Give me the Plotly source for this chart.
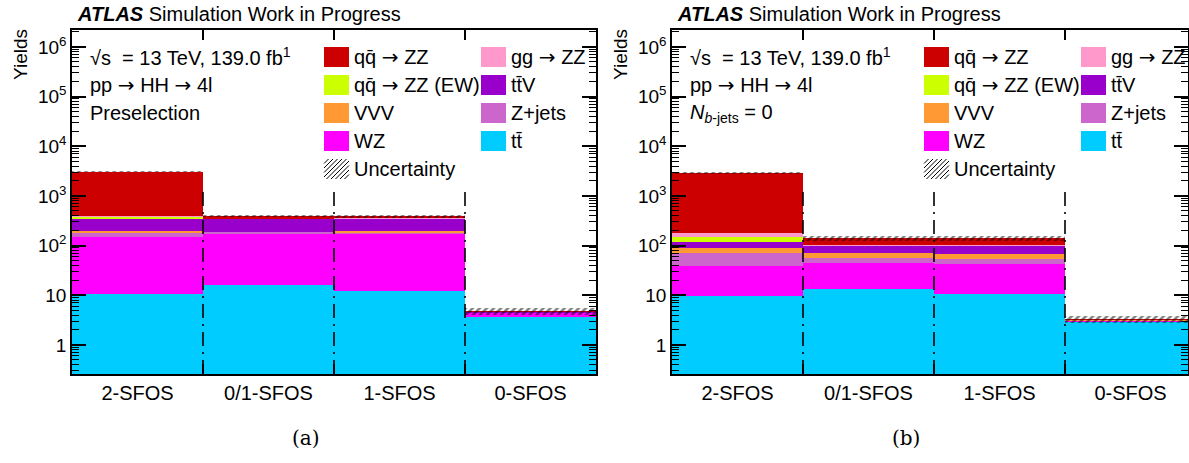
import numpy as np
import plotly.graph_objects as go

W, H = 1189, 463

categories = ["2-SFOS", "0/1-SFOS", "1-SFOS", "0-SFOS"]

ARROW = "<span style='font-family:DejaVu Sans'>\u2192</span>"

# processes in stacking order (bottom to top)
proc_names = ["tt\u0304", "WZ", "Z+jets", "VVV", "tt\u0304V",
              "qq\u0304 " + ARROW + " ZZ (EW)", "gg " + ARROW + " ZZ",
              "qq\u0304 " + ARROW + " ZZ"]
proc_colors = ["#00ccff", "#ff00ff", "#cc66cc", "#ff9933", "#9900cc",
               "#ccff00", "#ff99cc", "#cc0000"]

# (a) preselection yields per category
pre_ttbar = [10.5, 16.0, 12.3, 3.6]
pre_wz = [140.0, 160.0, 164.0, 0.9]
pre_zjets = [31.0, 12.0, 4.0, 0.05]
pre_vvv = [18.0, 4.0, 14.0, 0.05]
pre_ttv = [136.0, 152.0, 156.0, 0.1]
pre_zz_ew = [44.0, 0.5, 0.5, 0.0]
pre_ggzz = [18.0, 1.0, 1.0, 0.01]
pre_qqzz = [2672.0, 45.0, 35.0, 0.1]
pre_unc = [90.0, 20.0, 20.0, 0.8]

# (b) N_b-jets = 0 yields per category
b0_ttbar = [9.6, 13.3, 10.6, 2.9]
b0_wz = [29.0, 31.7, 31.8, 0.25]
b0_zjets = [32.7, 11.6, 10.6, 0.02]
b0_vvv = [16.2, 13.0, 14.0, 0.02]
b0_ttv = [30.0, 32.4, 35.0, 0.05]
b0_zz_ew = [33.0, 0.5, 0.5, 0.0]
b0_ggzz = [25.0, 0.5, 0.5, 0.01]
b0_qqzz = [2705.0, 36.0, 36.0, 0.05]
b0_unc = [85.0, 14.0, 14.0, 0.55]

y_ticks = [1, 10, 100, 1e3, 1e4, 1e5, 1e6]
y_ticktext = ["1", "10", "10<sup>2</sup>", "10<sup>3</sup>", "10<sup>4</sup>",
              "10<sup>5</sup>", "10<sup>6</sup>"]

FONT = "Liberation Sans, Arial, sans-serif"


def px(x):
    return x / W


def py(y):
    return 1 - y / H


fig = go.Figure()

xc = np.arange(len(categories)) + 0.5


def add_stack(stack, unc, xa, ya):
    base = np.zeros(len(categories))
    for vals, col in zip(stack, proc_colors):
        v = np.array(vals, dtype=float)
        fig.add_trace(go.Bar(x=xc, y=v, base=base.copy(), width=1.0,
                             marker=dict(color=col, line=dict(width=0)),
                             xaxis=xa, yaxis=ya, showlegend=False,
                             hoverinfo="skip"))
        base = base + v
    u = np.array(unc, dtype=float)
    fig.add_trace(go.Bar(x=xc, y=2 * u, base=base - u, width=1.0,
                         marker=dict(color="rgba(0,0,0,0)", line=dict(width=0),
                                     pattern=dict(shape="/", fgcolor="black",
                                                  bgcolor="rgba(0,0,0,0)",
                                                  size=5, solidity=0.5)),
                         xaxis=xa, yaxis=ya, showlegend=False, hoverinfo="skip"))


add_stack([pre_ttbar, pre_wz, pre_zjets, pre_vvv, pre_ttv, pre_zz_ew, pre_ggzz, pre_qqzz],
          pre_unc, "x", "y")
add_stack([b0_ttbar, b0_wz, b0_zjets, b0_vvv, b0_ttv, b0_zz_ew, b0_ggzz, b0_qqzz],
          b0_unc, "x2", "y2")

minor_y = [m * 10.0 ** e for e in range(-1, 7) for m in range(2, 10)]
y_top, y_bot = 30, 374
ydom = [py(y_bot), py(y_top)]
ylog_range = [np.log10(0.26), 6.34]


def yaxis_cfg():
    return dict(type="log", range=ylog_range, domain=ydom,
                tickvals=y_ticks, ticktext=y_ticktext,
                ticks="inside", ticklen=14, tickwidth=1.5, tickcolor="black",
                minor=dict(tickvals=minor_y, ticks="inside", ticklen=7,
                           tickwidth=1, tickcolor="black"),
                mirror="allticks", showline=True, linewidth=1.5, linecolor="black",
                showgrid=False, zeroline=False,
                tickfont=dict(family=FONT, size=19, color="black"))


def xaxis_cfg(dom, rng, anchor):
    return dict(domain=dom, range=rng, anchor=anchor,
                tickvals=list(xc), ticktext=categories,
                ticks="inside", ticklen=0,
                minor=dict(tickvals=[1, 2, 3], ticks="inside", ticklen=10,
                           tickwidth=1.5, tickcolor="black"),
                mirror="allticks", showline=True, linewidth=1.5, linecolor="black",
                showgrid=False, zeroline=False, ticklabelstandoff=0,
                tickfont=dict(family=FONT, size=20, color="black"))


bin_px = 131.0
left_x0, left_x1 = 72, 596
right_x0, right_x1 = 672, 1188

fig.update_layout(
    width=W, height=H, autosize=False,
    margin=dict(l=0, r=0, t=0, b=0),
    paper_bgcolor="white", plot_bgcolor="white",
    barmode="overlay", bargap=0,
    xaxis=xaxis_cfg([px(left_x0), px(left_x1)], [0, 4], "y"),
    yaxis=dict(**yaxis_cfg(), anchor="x"),
    xaxis2=xaxis_cfg([px(right_x0), px(right_x1)],
                     [0, (right_x1 - right_x0) / bin_px], "y2"),
    yaxis2=dict(**yaxis_cfg(), anchor="x2"),
    font=dict(family=FONT, color="black"),
)

annotations = []
shapes = []

# bin dividers
for xa in ("x", "x2"):
    for e in (1, 2, 3):
        shapes.append(dict(type="line", xref=xa, yref="paper", x0=e, x1=e,
                           y0=py(y_bot), y1=py(186),
                           line=dict(color="black", width=1.6,
                                     dash="14px,6px,2px,6px")))


def text(x, y, s, size=20, anchor="left", family=FONT, angle=0):
    annotations.append(dict(x=px(x), y=py(y), xref="paper", yref="paper",
                            text=s, showarrow=False, xanchor=anchor,
                            yanchor="middle", textangle=angle,
                            font=dict(family=family, size=size, color="black")))


def hatch_box(x0, y0, w, h, step=4.5):
    c = -h
    while c < w:
        t0 = max(0.0, -c / h)
        t1 = min(1.0, (w - c) / h)
        if t1 > t0:
            xa_, ya_ = x0 + c + t0 * h, y0 + h - t0 * h
            xb_, yb_ = x0 + c + t1 * h, y0 + h - t1 * h
            shapes.append(dict(type="line", xref="paper", yref="paper",
                               x0=px(xa_), y0=py(ya_), x1=px(xb_), y1=py(yb_),
                               line=dict(color="black", width=1)))
        c += step


panel_info = [
    (0, "Preselection", "(a)"),
    (600, "<i>N</i><sub><i>b</i>-jets</sub> = 0", "(b)"),
]

legend_col1 = [7, 5, 3, 1]   # qqZZ, EW, VVV, WZ
legend_col2 = [6, 4, 2, 0]   # ggZZ, ttV, Z+jets, ttbar
row_y = [57, 85, 113, 141, 169]

for off, sel, cap in panel_info:
    text(75 + off, 14, "<b><i>ATLAS</i></b> Simulation Work in Progress", size=20)
    text(20 + off, 55, "Yields", size=19, anchor="center", angle=-90)
    text(88 + off, 57, "\u221as  = 13 TeV, 139.0 fb<sup>1</sup>")
    text(88 + off, 85, "pp " + ARROW + " HH " + ARROW + " 4l")
    text(88 + off, 113, sel)
    text(306 + off, 438, cap, size=20, anchor="center",
         family="DejaVu Serif, Liberation Serif, serif")
    for col, (bx, idxs) in enumerate([(324, legend_col1), (481, legend_col2)]):
        for r, i in enumerate(idxs):
            cy = row_y[r]
            shapes.append(dict(type="rect", xref="paper", yref="paper",
                               x0=px(bx + off), x1=px(bx + off + 25),
                               y0=py(cy + 10), y1=py(cy - 10),
                               fillcolor=proc_colors[i], line=dict(width=0)))
            text(bx + off + 28, cy, proc_names[i])
    hatch_box(324 + off, row_y[4] - 10, 25, 20)
    text(352 + off, row_y[4], "Uncertainty")

fig.update_layout(annotations=annotations, shapes=shapes)

fig.write_html("out.html")
